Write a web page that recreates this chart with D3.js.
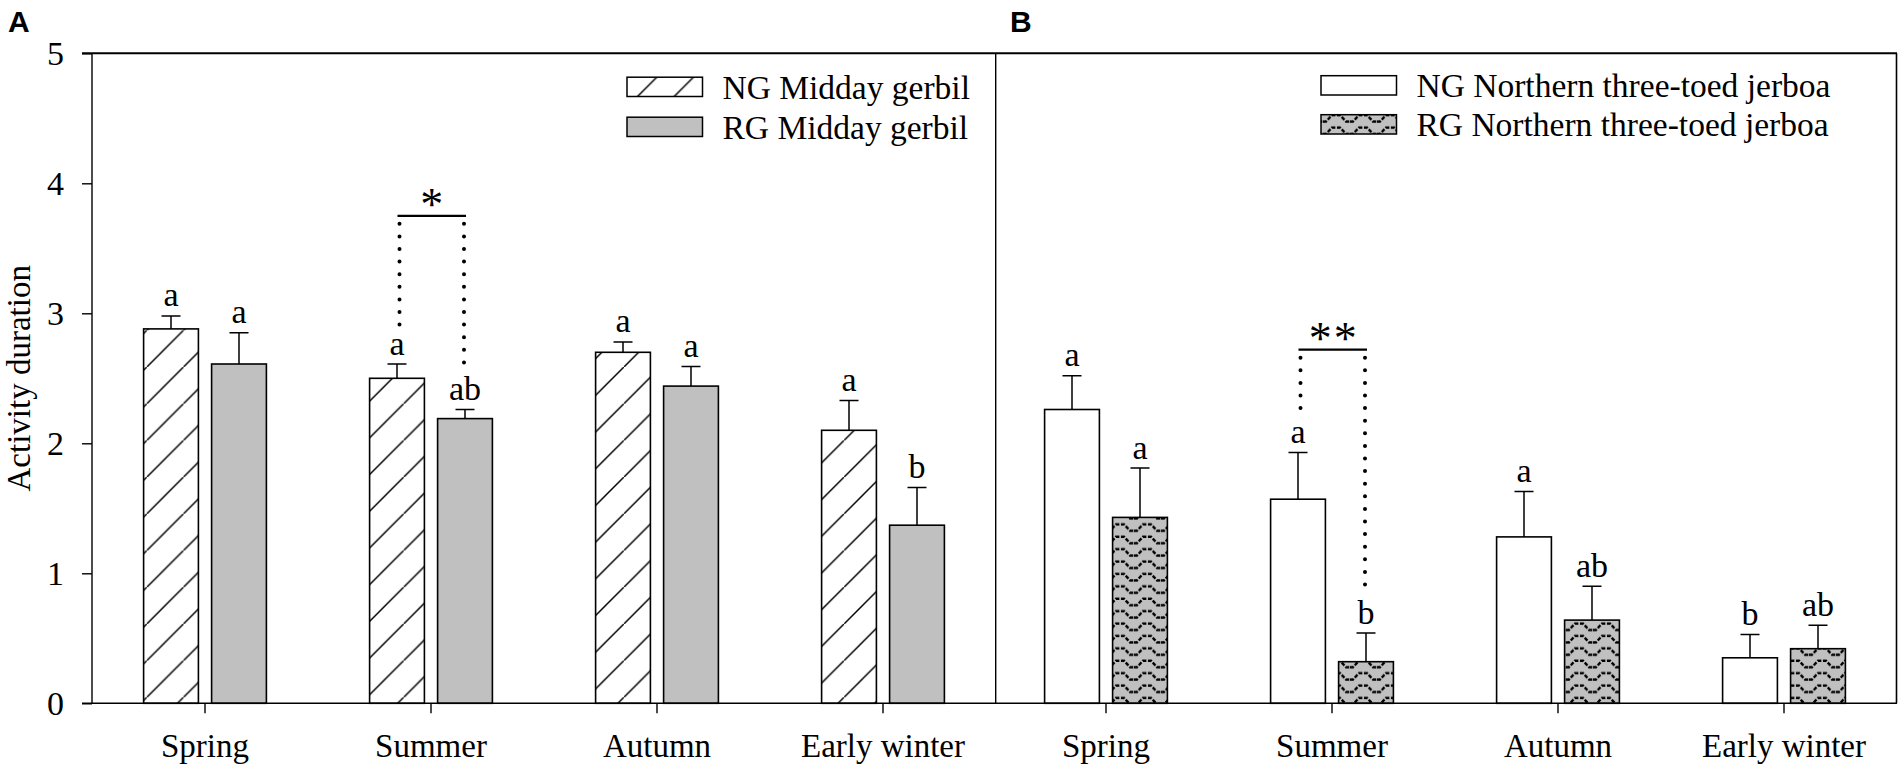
<!DOCTYPE html>
<html>
<head>
<meta charset="utf-8">
<script src="https://cdn.jsdelivr.net/npm/d3@7"></script>
<style>
	body { margin: 0; background: #fff; }
	svg { display: block; }
	text { font-family: 'Liberation Serif', 'Times New Roman', serif; fill: #000; }
	.panel-label { font-family: 'Liberation Sans', Arial, sans-serif; font-weight: bold; font-size: 30px; }
</style>
</head>
<body>
<svg></svg>
<script>
const seasons = ['Spring', 'Summer', 'Autumn', 'Early winter'];
const groups = ['NG', 'RG'];
const yTicks = [0, 1, 2, 3, 4, 5];

// panel A: Midday gerbil
const ngGerbil = [2.88, 2.50, 2.70, 2.10];
const ngGerbilErr = [0.10, 0.11, 0.08, 0.23];
const ngGerbilLetters = ['a', 'a', 'a', 'a'];
const rgGerbil = [2.61, 2.19, 2.44, 1.37];
const rgGerbilErr = [0.24, 0.07, 0.15, 0.29];
const rgGerbilLetters = ['a', 'ab', 'a', 'b'];

// panel B: Northern three-toed jerboa
const ngJerboa = [2.26, 1.57, 1.28, 0.35];
const ngJerboaErr = [0.26, 0.36, 0.35, 0.18];
const ngJerboaLetters = ['a', 'a', 'a', 'b'];
const rgJerboa = [1.43, 0.32, 0.64, 0.42];
const rgJerboaErr = [0.38, 0.22, 0.26, 0.18];
const rgJerboaLetters = ['a', 'b', 'ab', 'ab'];

// significance brackets
const sigA = { season: 'Summer', level: 3.75, mark: '*' };
const sigB = { season: 'Summer', level: 2.72, mark: '**' };

const width = 1904;
const height = 771;

const svg = d3.select('svg')
	.attr('width', width)
	.attr('height', height);

const defs = svg.append('defs');

const hatch = defs.append('pattern')
	.attr('id', 'hatch')
	.attr('patternUnits', 'userSpaceOnUse')
	.attr('width', 36.7)
	.attr('height', 36.7);
hatch.append('rect').attr('width', 36.7).attr('height', 36.7).attr('fill', '#fff');
hatch.append('path')
	.attr('d', 'M-2,38.7 L38.7,-2')
	.attr('stroke', '#000')
	.attr('stroke-width', 1.5);

const wave = defs.append('pattern')
	.attr('id', 'wave')
	.attr('patternUnits', 'userSpaceOnUse')
	.attr('width', 27)
	.attr('height', 12.4);
wave.append('rect').attr('width', 27).attr('height', 12.4).attr('fill', '#c0c0c0');
wave.append('path')
	.attr('d', 'M0,10 H3 L9,3.5 H17 L23,10 H27')
	.attr('fill', 'none')
	.attr('stroke', '#000')
	.attr('stroke-width', 2.4)
	.attr('stroke-dasharray', '4,1.6');

const plotTop = 53.3;
const plotBottom = 703.3;

const yScale = d3.scaleLinear()
	.domain([0, 5])
	.range([plotBottom, plotTop]);

const subScale = d3.scaleBand()
	.domain(groups)
	.range([-61.4, 61.4])
	.paddingInner(0.194);

const panels = [
	{
		label: 'A', range: [92, 996], labelX: 8,
		ng: ngGerbil, ngErr: ngGerbilErr, ngLetters: ngGerbilLetters, ngFill: 'url(#hatch)',
		rg: rgGerbil, rgErr: rgGerbilErr, rgLetters: rgGerbilLetters, rgFill: '#c0c0c0',
		legend: ['NG Midday gerbil', 'RG Midday gerbil'], legendX: 627, legendY: [98.5, 138.5],
		sig: sigA
	},
	{
		label: 'B', range: [993, 1897], labelX: 1010,
		ng: ngJerboa, ngErr: ngJerboaErr, ngLetters: ngJerboaLetters, ngFill: '#fff',
		rg: rgJerboa, rgErr: rgJerboaErr, rgLetters: rgJerboaLetters, rgFill: 'url(#wave)',
		legend: ['NG Northern three-toed jerboa', 'RG Northern three-toed jerboa'], legendX: 1321, legendY: [97, 136],
		sig: sigB
	}
];

// frame
svg.append('line')
	.attr('x1', 82).attr('x2', 1897)
	.attr('y1', plotTop).attr('y2', plotTop)
	.attr('stroke', '#000').attr('stroke-width', 2);
svg.append('line')
	.attr('x1', 1896.5).attr('x2', 1896.5)
	.attr('y1', plotTop).attr('y2', plotBottom)
	.attr('stroke', '#000').attr('stroke-width', 1.6);
svg.append('line')
	.attr('x1', 995.7).attr('x2', 995.7)
	.attr('y1', plotTop).attr('y2', plotBottom)
	.attr('stroke', '#000').attr('stroke-width', 1.4);

// y axis
const yAxis = d3.axisLeft(yScale)
	.tickValues(yTicks)
	.tickFormat(d3.format('d'))
	.tickSize(10)
	.tickPadding(18);

const yAxisGroup = svg.append('g')
	.attr('transform', 'translate(92,0)')
	.call(yAxis);
yAxisGroup.select('.domain').remove();
yAxisGroup.selectAll('.tick line').attr('stroke-width', 1.4);
yAxisGroup.selectAll('.tick text')
	.attr('font-family', 'Liberation Serif')
	.attr('font-size', 34);
yAxisGroup.append('line')
	.attr('y1', plotTop).attr('y2', plotBottom)
	.attr('stroke', '#000').attr('stroke-width', 1.4);

svg.append('text')
	.attr('transform', `translate(30,${(plotTop + plotBottom) / 2}) rotate(-90)`)
	.attr('text-anchor', 'middle')
	.attr('font-size', 33)
	.text('Activity duration');

panels.forEach(p => {
	const xScale = d3.scaleBand()
		.domain(seasons)
		.range(p.range);
	const cx = s => xScale(s) + xScale.bandwidth() / 2;

	const xAxis = d3.axisBottom(xScale)
		.tickSize(10)
		.tickSizeOuter(0)
		.tickPadding(20);

	const xAxisGroup = svg.append('g')
		.attr('transform', `translate(0,${plotBottom})`)
		.call(xAxis);
	xAxisGroup.select('.domain').remove();
	xAxisGroup.selectAll('.tick line').attr('stroke-width', 1.4);
	xAxisGroup.selectAll('.tick text')
		.attr('font-family', 'Liberation Serif')
		.attr('font-size', 33);

	svg.append('text')
		.attr('class', 'panel-label')
		.attr('x', p.labelX)
		.attr('y', 32)
		.text(p.label);

	const rows = seasons.map((s, i) => [
		{ season: s, group: 'NG', value: p.ng[i], err: p.ngErr[i], letter: p.ngLetters[i], fill: p.ngFill },
		{ season: s, group: 'RG', value: p.rg[i], err: p.rgErr[i], letter: p.rgLetters[i], fill: p.rgFill }
	]).flat();

	const barX = d => cx(d.season) + subScale(d.group);
	const barC = d => barX(d) + subScale.bandwidth() / 2;

	const g = svg.append('g');

	g.selectAll('.bar')
		.data(rows)
		.join('rect')
		.attr('class', 'bar')
		.attr('x', barX)
		.attr('width', subScale.bandwidth())
		.attr('y', d => yScale(d.value))
		.attr('height', d => plotBottom - yScale(d.value))
		.attr('fill', d => d.fill)
		.attr('stroke', '#000')
		.attr('stroke-width', 1.6);

	g.selectAll('.err')
		.data(rows)
		.join('path')
		.attr('class', 'err')
		.attr('d', d => {
			const x = barC(d);
			const y0 = yScale(d.value);
			const y1 = yScale(d.value + d.err);
			return `M${x},${y0} V${y1} M${x - 9.5},${y1} H${x + 9.5}`;
		})
		.attr('fill', 'none')
		.attr('stroke', '#000')
		.attr('stroke-width', 1.5);

	g.selectAll('.letter')
		.data(rows)
		.join('text')
		.attr('class', 'letter')
		.attr('x', barC)
		.attr('y', d => yScale(d.value + d.err) - 9.5)
		.attr('text-anchor', 'middle')
		.attr('font-size', 34)
		.text(d => d.letter);

	// significance bracket
	const pair = rows.filter(d => d.season === p.sig.season);
	const xl = barC(pair[0]) + 2.5;
	const xr = barC(pair[1]) - 1;
	const ys = yScale(p.sig.level);
	g.append('line')
		.attr('x1', xl - 2).attr('x2', xr + 2)
		.attr('y1', ys).attr('y2', ys)
		.attr('stroke', '#000').attr('stroke-width', 2.2);
	g.append('text')
		.attr('x', (xl + xr) / 2 + 1)
		.attr('y', ys + 4)
		.attr('text-anchor', 'middle')
		.attr('font-size', 46)
		.attr('letter-spacing', 2)
		.text(p.sig.mark);
	pair.forEach((d, i) => {
		const letterTop = yScale(d.value + d.err) - 9.5 - (d.letter.includes('b') ? 23 : 15);
		g.append('line')
			.attr('x1', i === 0 ? xl : xr).attr('x2', i === 0 ? xl : xr)
			.attr('y1', ys + 8)
			.attr('y2', letterTop - 12)
			.attr('stroke', '#000')
			.attr('stroke-width', 4)
			.attr('stroke-linecap', 'round')
			.attr('stroke-dasharray', '0,12.6');
	});

	// legend
	const legend = svg.append('g');
	p.legend.forEach((name, i) => {
		const by = p.legendY[i];
		legend.append('rect')
			.attr('x', p.legendX)
			.attr('y', by - 21.3)
			.attr('width', 75.5)
			.attr('height', 19.3)
			.attr('fill', i === 0 ? p.ngFill : p.rgFill)
			.attr('stroke', '#000')
			.attr('stroke-width', 1.5);
		legend.append('text')
			.attr('x', p.legendX + 95.5)
			.attr('y', by)
			.attr('font-size', 33.5)
			.text(name);
	});
});

// x axis line
svg.append('line')
	.attr('x1', 82).attr('x2', 1897)
	.attr('y1', plotBottom).attr('y2', plotBottom)
	.attr('stroke', '#000').attr('stroke-width', 1.4);
</script>
</body>
</html>
